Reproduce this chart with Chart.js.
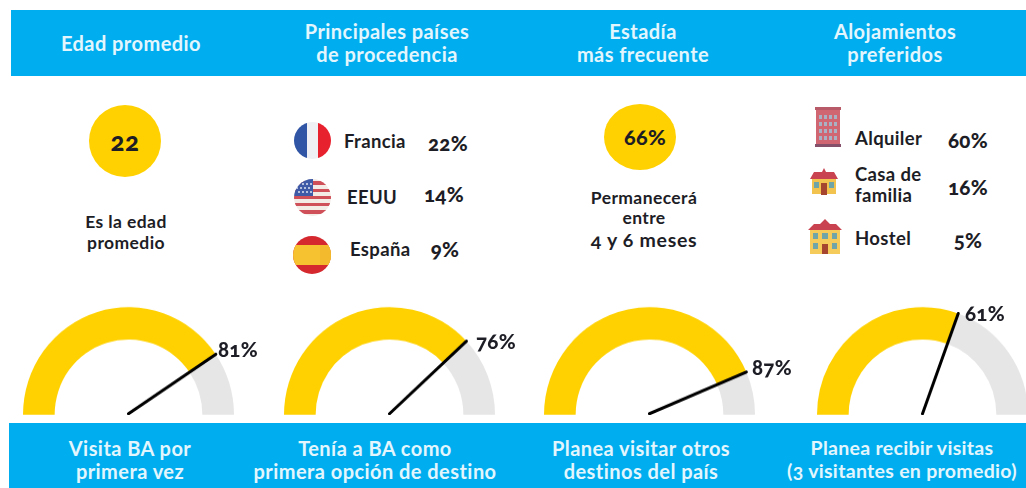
<!DOCTYPE html>
<html lang="es">
<head>
<meta charset="utf-8">
<title>Perfil del visitante</title>
<script src="https://cdn.jsdelivr.net/npm/chart.js@4"></script>
<style>
html, body { margin: 0; padding: 0; background: #fff; }
#page { position: relative; width: 1026px; height: 488px; overflow: hidden; font-family: Lato, sans-serif; font-weight: 700; color: #1d1d26; font-variant-numeric: oldstyle-nums; }
.band { position: absolute; background: #00aeef; }
.t { position: absolute; white-space: nowrap; line-height: 1; transform: translateY(-50%); }
.c { transform: translate(-50%, -50%); }
.w { color: #e4f6fd; font-size: 20px; letter-spacing: .45px; }
.w2 { color: #e4f6fd; font-size: 19.5px; letter-spacing: .3px; }
.s { font-size: 18.5px; letter-spacing: .35px; }
.m { font-size: 17.5px; letter-spacing: .4px; }
.l { font-size: 19.5px; letter-spacing: .7px; }
.p { font-size: 20.5px; font-weight: 900; letter-spacing: .3px; }
.n { font-size: 26px; font-weight: 900; letter-spacing: .5px; }
.h { font-size: 21.5px; font-weight: 900; letter-spacing: .4px; }
.dot { position: absolute; width: 72px; height: 72px; border-radius: 50%; background: #ffd100; }
canvas { position: absolute; transform: scaleY(1.02); transform-origin: bottom; }
svg { position: absolute; overflow: hidden; }
</style>
</head>
<body>
<div id="page">
  <div class="band" style="left:11px;top:10px;width:1015px;height:66px"></div>
  <div class="band" style="left:9px;top:423px;width:1017px;height:65px"></div>

  <div class="dot" style="left:89px;top:105px"></div>
  <div class="dot" style="left:604px;top:104px;height:66px;width:72px"></div>

  <!-- banderas -->
  <svg style="left:294px;top:122px" width="37" height="37" viewBox="0 0 37 37"><defs><clipPath id="f1"><circle cx="18.5" cy="18.5" r="18.5"/></clipPath></defs><g clip-path="url(#f1)"><rect width="13" height="37" fill="#2f55a4"/><rect x="13" width="11" height="37" fill="#eef0f4"/><rect x="24" width="13" height="37" fill="#e8212e"/></g></svg>
  <svg style="left:294px;top:179px" width="37" height="37" viewBox="0 0 37 37"><defs><clipPath id="f2"><circle cx="18.5" cy="18.5" r="18.5"/></clipPath></defs><g clip-path="url(#f2)"><rect width="37" height="37" fill="#f3ece6"/><rect y="2" width="37" height="4" fill="#d0505a"/><rect y="10" width="37" height="3" fill="#d0505a"/><rect y="17" width="37" height="3" fill="#d0505a"/><rect y="24" width="37" height="3" fill="#d0505a"/><rect y="31" width="37" height="4" fill="#d0505a"/><rect width="19" height="17" fill="#3f5aa6"/><g fill="#dfe4f2"><circle cx="5" cy="5" r="1"/><circle cx="9" cy="5" r="1"/><circle cx="13" cy="5" r="1"/><circle cx="17" cy="5" r="1"/><circle cx="3" cy="9" r="1"/><circle cx="7" cy="9" r="1"/><circle cx="11" cy="9" r="1"/><circle cx="15" cy="9" r="1"/><circle cx="5" cy="13" r="1"/><circle cx="9" cy="13" r="1"/><circle cx="13" cy="13" r="1"/><circle cx="17" cy="13" r="1"/></g></g></svg>
  <svg style="left:293px;top:236px" width="38" height="38" viewBox="0 0 38 38"><defs><clipPath id="f3"><circle cx="19" cy="19" r="19"/></clipPath></defs><g clip-path="url(#f3)"><rect width="38" height="38" fill="#d5272e"/><rect y="9" width="38" height="20" fill="#f7c22f"/><rect x="27" y="9" width="11" height="20" fill="#f2ba2c"/></g></svg>

  <!-- alojamientos -->
  <svg style="left:815px;top:107px" width="26" height="40" viewBox="0 0 26 40"><rect x="1" y="2" width="24" height="38" fill="#cf6672"/><rect width="26" height="3" fill="#b85a68"/><rect y="37" width="26" height="3" fill="#85506a"/><g fill="#a9b2c4"><rect x="4" y="8" width="3" height="4"/><rect x="9" y="8" width="3" height="4"/><rect x="14" y="8" width="3" height="4"/><rect x="19" y="8" width="3" height="4"/><rect x="4" y="15" width="3" height="4"/><rect x="9" y="15" width="3" height="4"/><rect x="14" y="15" width="3" height="4"/><rect x="19" y="15" width="3" height="4"/><rect x="4" y="22" width="3" height="4"/><rect x="9" y="22" width="3" height="4"/><rect x="14" y="22" width="3" height="4"/><rect x="19" y="22" width="3" height="4"/><rect x="4" y="29" width="3" height="4"/><rect x="9" y="29" width="3" height="4"/><rect x="14" y="29" width="3" height="4"/><rect x="19" y="29" width="3" height="4"/></g></svg>
  <svg style="left:810px;top:168px" width="28" height="27" viewBox="0 0 28 27"><rect x="2" y="11" width="24" height="15" fill="#f2c44f"/><path d="M4 4H12L14 0 16 4H24L28 11H0Z" fill="#c8424f"/><rect x="11" y="15" width="6" height="12" fill="#a5452f"/><rect x="4" y="14" width="5" height="6" fill="#6fa5a8"/><rect x="19" y="14" width="5" height="6" fill="#6fa5a8"/></svg>
  <svg style="left:808px;top:219px" width="34" height="35" viewBox="0 0 34 35"><rect x="2" y="10" width="30" height="25" fill="#f5cb5c"/><path d="M0 11L6 5H12L17 0 22 5H28L34 11Z" fill="#c8424f"/><rect x="14" y="25" width="6" height="10" fill="#a5452f"/><g fill="#6fa5a8"><rect x="5" y="14" width="5" height="6"/><rect x="14" y="14" width="6" height="6"/><rect x="24" y="14" width="5" height="6"/><rect x="5" y="24" width="5" height="6"/><rect x="24" y="24" width="5" height="6"/></g></svg>

  <canvas id="g0" style="left:23px;top:309px"></canvas>
  <canvas id="g1" style="left:284px;top:309px"></canvas>
  <canvas id="g2" style="left:544px;top:309px"></canvas>
  <canvas id="g3" style="left:817px;top:309px"></canvas>
</div>
<script>
// data
const gaugeValues = [81, 76, 87, 61];
const gaugeColors = ['#ffd100', '#e6e6e6'];
const headerTitles = [['Edad promedio'], ['Principales países', 'de procedencia'], ['Estadía', 'más frecuente'], ['Alojamientos', 'preferidos']];
const footerTitles = [['Visita BA por', 'primera vez'], ['Tenía a BA como', 'primera opción de destino'], ['Planea visitar otros', 'destinos del país'], ['Planea recibir visitas', '(3 visitantes en promedio)']];
const countries = ['Francia', 'EEUU', 'España'];
const countryShares = [22, 14, 9];
const lodgings = [['Alquiler'], ['Casa de', 'familia'], ['Hostel']];
const lodgingShares = [60, 16, 5];
const averageAge = 22;
const stayShare = 66;

const page = document.getElementById('page');

function addText(text, x, y, cls, centered) {
    const el = document.createElement('div');
    el.className = 't ' + cls + (centered ? ' c' : '');
    el.textContent = text;
    el.style.left = x + 'px';
    el.style.top = y + 'px';
    page.appendChild(el);
}

// blue bands
const headerX = [131, 387, 643, 895];
const footerX = [130, 375, 641, 902];
headerTitles.forEach(function(lines, i) {
    const ys = lines.length === 1 ? [43] : [31, 54];
    lines.forEach(function(line, j) { addText(line, headerX[i], ys[j], 'w', true); });
});
footerTitles.forEach(function(lines, i) {
    lines.forEach(function(line, j) { addText(line, footerX[i], [448, 471][j], i === 3 ? 'w2' : 'w', true); });
});

// first and third columns
addText(String(averageAge), 125, 141, 'n', true);
addText('Es la edad', 126, 222, 'm', true);
addText('promedio', 126, 243, 'm', true);
addText(stayShare + '%', 645, 138, 'h', true);
addText('Permanecerá', 644, 198, 'm', true);
addText('entre', 644, 218, 'm', true);
addText('4 y 6 meses', 644, 240, 'l', true);

// second column
const countryX = [344, 347, 350];
const countryY = [141, 197, 249];
const countrySharePos = [[448, 143], [444, 194], [445, 249]];
countries.forEach(function(name, i) {
    addText(name, countryX[i], countryY[i], 's', false);
    addText(countryShares[i] + '%', countrySharePos[i][0], countrySharePos[i][1], 'p', true);
});

// fourth column
const lodgingY = [[138], [174, 195], [238]];
const lodgingSharePos = [[968, 140], [968, 187], [968, 240]];
lodgings.forEach(function(lines, i) {
    lines.forEach(function(line, j) { addText(line, 855, lodgingY[i][j], 's', false); });
    addText(lodgingShares[i] + '%', lodgingSharePos[i][0], lodgingSharePos[i][1], 'p', true);
});

// gauge percent labels
const gaugeLabelPos = [[238, 349], [496, 341], [772, 367], [985, 313]];
gaugeValues.forEach(function(v, i) {
    addText(v + '%', gaugeLabelPos[i][0], gaugeLabelPos[i][1], 'p', true);
});

// needle goes from the centre to the end of the yellow arc
const needlePlugin = {
    id: 'needle',
    afterDatasetsDraw: function(chart) {
        const arc = chart.getDatasetMeta(0).data[0];
        const ctx = chart.ctx;
        ctx.save();
        ctx.strokeStyle = '#000';
        ctx.lineWidth = 3;
        ctx.lineCap = 'round';
        ctx.beginPath();
        ctx.moveTo(arc.x, arc.y - 1);
        ctx.lineTo(arc.x + Math.cos(arc.endAngle) * arc.outerRadius, arc.y + Math.sin(arc.endAngle) * arc.outerRadius);
        ctx.stroke();
        ctx.restore();
    }
};

gaugeValues.forEach(function(v, i) {
    const canvas = document.getElementById('g' + i);
    canvas.width = 211;
    canvas.height = 106;
    new Chart(canvas, {
        type: 'doughnut',
        data: {
            labels: ['Sí', 'Resto'],
            datasets: [{ data: [v, 100 - v], backgroundColor: gaugeColors, borderWidth: 0 }]
        },
        options: {
            responsive: false,
            animation: false,
            rotation: -90,
            circumference: 180,
            cutout: '70%',
            plugins: { legend: { display: false }, tooltip: { enabled: false } }
        },
        plugins: [needlePlugin]
    });
});
</script>
</body>
</html>
